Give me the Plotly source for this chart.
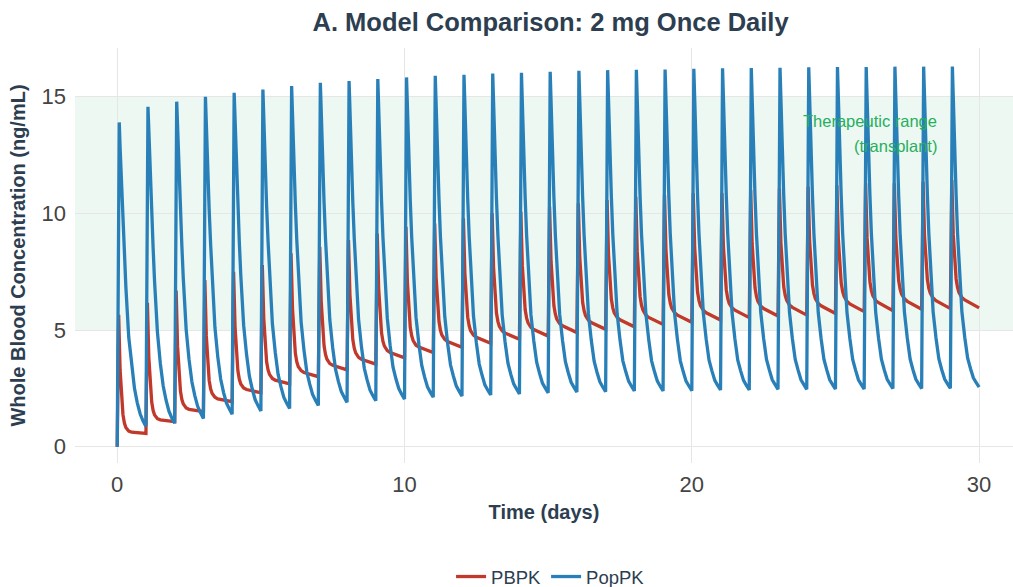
import plotly.graph_objects as go

# ---------------- data (ng/mL) ----------------
n_days = 30
# PopPK: concentration at fixed times after each daily dose (fraction of a day)
popk_offsets = [0.07, 0.1, 0.15, 0.2, 0.25, 0.3, 0.4, 0.5, 0.6, 0.7, 0.8, 0.9, 1.0]
popk_peak = [13.9, 14.57, 14.79, 15.0, 15.17, 15.31, 15.46, 15.6, 15.67, 15.76, 15.83, 15.9, 15.94, 16.0, 16.03,
             16.07, 16.11, 16.14, 16.16, 16.17, 16.2, 16.22, 16.23, 16.24, 16.26, 16.27, 16.27, 16.29, 16.29, 16.3]
popk_010 = [12.82, 13.38, 13.59, 13.75, 13.9, 14.01, 14.14, 14.26, 14.31, 14.39, 14.44, 14.51, 14.55, 14.59, 14.62,
            14.66, 14.68, 14.71, 14.73, 14.74, 14.77, 14.79, 14.8, 14.81, 14.82, 14.84, 14.84, 14.85, 14.85, 14.84]
popk_015 = [11.2, 11.6, 11.8, 11.9, 12.0, 12.09, 12.18, 12.27, 12.31, 12.37, 12.4, 12.45, 12.48, 12.52, 12.54,
            12.57, 12.58, 12.6, 12.61, 12.63, 12.64, 12.66, 12.66, 12.67, 12.67, 12.69, 12.69, 12.7, 12.7, 12.7]
popk_020 = [9.64, 9.93, 10.07, 10.17, 10.25, 10.31, 10.38, 10.45, 10.48, 10.53, 10.55, 10.59, 10.61, 10.64, 10.66,
            10.68, 10.69, 10.7, 10.71, 10.73, 10.74, 10.75, 10.75, 10.76, 10.76, 10.77, 10.77, 10.78, 10.78, 10.78]
popk_025 = [8.3, 8.5, 8.6, 8.7, 8.75, 8.8, 8.85, 8.9, 8.93, 8.96, 8.98, 9.0, 9.02, 9.05, 9.06,
            9.07, 9.08, 9.09, 9.1, 9.11, 9.12, 9.12, 9.12, 9.13, 9.13, 9.14, 9.14, 9.15, 9.15, 9.15]
popk_030 = [6.86, 7.07, 7.19, 7.29, 7.36, 7.42, 7.48, 7.55, 7.59, 7.62, 7.65, 7.68, 7.69, 7.73, 7.75,
            7.76, 7.77, 7.78, 7.79, 7.8, 7.81, 7.82, 7.82, 7.83, 7.83, 7.84, 7.84, 7.85, 7.85, 7.86]
popk_040 = [4.7, 4.9, 5.02, 5.12, 5.21, 5.28, 5.35, 5.43, 5.47, 5.51, 5.55, 5.59, 5.61, 5.64, 5.66,
            5.68, 5.7, 5.71, 5.72, 5.72, 5.74, 5.75, 5.76, 5.76, 5.76, 5.77, 5.77, 5.78, 5.78, 5.8]
popk_050 = [3.43, 3.57, 3.73, 3.85, 3.97, 4.05, 4.14, 4.24, 4.29, 4.33, 4.39, 4.43, 4.46, 4.49, 4.53,
            4.55, 4.57, 4.58, 4.59, 4.59, 4.61, 4.62, 4.64, 4.64, 4.64, 4.65, 4.65, 4.66, 4.66, 4.69]
popk_060 = [2.5, 2.6, 2.77, 2.9, 3.02, 3.1, 3.2, 3.31, 3.36, 3.41, 3.48, 3.51, 3.54, 3.58, 3.62,
            3.64, 3.66, 3.68, 3.68, 3.68, 3.71, 3.71, 3.74, 3.74, 3.74, 3.74, 3.75, 3.75, 3.76, 3.8]
popk_070 = [1.87, 1.99, 2.19, 2.33, 2.47, 2.56, 2.68, 2.79, 2.85, 2.91, 2.98, 3.03, 3.06, 3.1, 3.14,
            3.17, 3.19, 3.22, 3.22, 3.22, 3.25, 3.25, 3.28, 3.28, 3.28, 3.28, 3.29, 3.29, 3.3, 3.35]
popk_080 = [1.4, 1.52, 1.73, 1.88, 2.02, 2.11, 2.24, 2.36, 2.42, 2.49, 2.56, 2.61, 2.64, 2.69, 2.73,
            2.76, 2.78, 2.81, 2.81, 2.81, 2.84, 2.84, 2.87, 2.87, 2.87, 2.87, 2.89, 2.89, 2.9, 2.95]
popk_090 = [1.1, 1.23, 1.45, 1.62, 1.76, 1.86, 1.99, 2.12, 2.18, 2.25, 2.33, 2.38, 2.42, 2.47, 2.51,
            2.54, 2.56, 2.59, 2.59, 2.6, 2.63, 2.63, 2.66, 2.66, 2.66, 2.66, 2.68, 2.68, 2.69, 2.74]
popk_trough = [0.86, 1.0, 1.21, 1.39, 1.53, 1.64, 1.77, 1.9, 1.97, 2.04, 2.12, 2.17, 2.22, 2.26, 2.31,
               2.34, 2.36, 2.39, 2.39, 2.4, 2.43, 2.43, 2.46, 2.46, 2.47, 2.47, 2.49, 2.49, 2.5, 2.55]

# PBPK
pbpk_offsets = [0.05, 0.1, 0.15, 0.2, 0.25, 0.3, 0.4, 0.5, 1.0]
pbpk_peak = [5.65, 6.17, 6.69, 7.14, 7.5, 7.79, 8.29, 8.57, 8.86, 9.14, 9.43, 9.57, 9.79, 10.0, 10.07,
             10.29, 10.43, 10.57, 10.71, 10.79, 10.86, 10.86, 11.0, 11.07, 11.14, 11.21, 11.29, 11.29, 11.36, 11.43]
pbpk_010 = [3.29, 3.82, 4.31, 4.77, 5.16, 5.5, 5.93, 6.22, 6.5, 6.79, 7.06, 7.25, 7.45, 7.65, 7.76,
            7.95, 8.1, 8.23, 8.35, 8.44, 8.53, 8.58, 8.69, 8.75, 8.82, 8.9, 8.96, 8.99, 9.04, 9.1]
pbpk_015 = [2.03, 2.57, 3.05, 3.51, 3.91, 4.29, 4.68, 4.98, 5.26, 5.55, 5.8, 6.02, 6.21, 6.41, 6.53,
            6.71, 6.86, 6.99, 7.11, 7.2, 7.3, 7.37, 7.47, 7.52, 7.59, 7.68, 7.73, 7.78, 7.82, 7.86]
pbpk_020 = [1.37, 1.91, 2.38, 2.84, 3.25, 3.64, 4.0, 4.31, 4.59, 4.88, 5.12, 5.36, 5.55, 5.73, 5.87,
            6.04, 6.19, 6.32, 6.43, 6.52, 6.63, 6.72, 6.81, 6.85, 6.93, 7.01, 7.06, 7.12, 7.16, 7.19]
pbpk_025 = [1.01, 1.55, 2.02, 2.48, 2.89, 3.29, 3.64, 3.95, 4.22, 4.51, 4.75, 4.99, 5.18, 5.37, 5.51,
            5.68, 5.83, 5.95, 6.06, 6.15, 6.26, 6.36, 6.44, 6.49, 6.56, 6.65, 6.69, 6.75, 6.79, 6.82]
pbpk_030 = [0.82, 1.36, 1.83, 2.29, 2.69, 3.1, 3.44, 3.75, 4.02, 4.31, 4.55, 4.79, 4.97, 5.16, 5.31,
            5.47, 5.62, 5.74, 5.85, 5.94, 6.05, 6.15, 6.23, 6.28, 6.35, 6.44, 6.48, 6.54, 6.58, 6.61]
pbpk_040 = [0.67, 1.2, 1.66, 2.12, 2.52, 2.92, 3.26, 3.56, 3.83, 4.12, 4.35, 4.6, 4.78, 4.96, 5.11,
            5.27, 5.42, 5.54, 5.64, 5.74, 5.85, 5.95, 6.03, 6.07, 6.14, 6.23, 6.27, 6.34, 6.37, 6.4]
pbpk_050 = [0.62, 1.15, 1.6, 2.05, 2.45, 2.85, 3.18, 3.49, 3.75, 4.04, 4.27, 4.51, 4.69, 4.87, 5.02,
            5.18, 5.32, 5.44, 5.54, 5.64, 5.74, 5.85, 5.92, 5.97, 6.04, 6.12, 6.17, 6.23, 6.26, 6.29]
pbpk_trough = [0.57, 1.07, 1.5, 1.93, 2.31, 2.69, 3.0, 3.29, 3.54, 3.81, 4.03, 4.26, 4.43, 4.6, 4.74,
               4.89, 5.03, 5.14, 5.24, 5.33, 5.43, 5.53, 5.6, 5.64, 5.71, 5.79, 5.83, 5.89, 5.92, 5.95]

therapeutic_low, therapeutic_high = 5, 15
x_ticks = [0, 10, 20, 30]
y_ticks = [0, 5, 10, 15]


def build(offsets, columns):
    t, c = [0.0], [0.0]
    for d in range(n_days):
        for off, col in zip(offsets, columns):
            t.append(d + off)
            c.append(col[d])
    return t, c


pb_t, pb_c = build(pbpk_offsets, [pbpk_peak, pbpk_010, pbpk_015, pbpk_020, pbpk_025, pbpk_030,
                                  pbpk_040, pbpk_050, pbpk_trough])
pp_t, pp_c = build(popk_offsets, [popk_peak, popk_010, popk_015, popk_020, popk_025, popk_030, popk_040,
                                  popk_050, popk_060, popk_070, popk_080, popk_090, popk_trough])

RED = "#c0392b"
BLUE = "#2980b9"
DARK = "#2c3e50"
GREEN = "#27ae60"
FONT = "Liberation Sans, Arial, sans-serif"

fig = go.Figure()
fig.add_trace(go.Scatter(x=pb_t, y=pb_c, mode="lines", name="PBPK",
                         line=dict(color=RED, width=3.3)))
fig.add_trace(go.Scatter(x=pp_t, y=pp_c, mode="lines", name="PopPK",
                         line=dict(color=BLUE, width=3.3)))

fig.add_shape(type="rect", xref="paper", x0=0, x1=1, yref="y",
              y0=therapeutic_low, y1=therapeutic_high,
              fillcolor="rgba(39,174,96,0.09)", line=dict(width=0), layer="below")

fig.add_annotation(x=28.6, y=13.96, xref="x", yref="y", text="Therapeutic range",
                   showarrow=False, xanchor="right", yanchor="middle",
                   font=dict(family=FONT, size=16.5, color=GREEN))
fig.add_annotation(x=28.6, y=12.89, xref="x", yref="y", text="(transplant)",
                   showarrow=False, xanchor="right", yanchor="middle",
                   font=dict(family=FONT, size=16.5, color=GREEN))

fig.update_layout(
    width=1013, height=587,
    margin=dict(l=75, r=0, t=48, b=124, autoexpand=False),
    paper_bgcolor="white", plot_bgcolor="white",
    font=dict(family=FONT, color="#444444"),
    title=dict(text="<b>A. Model Comparison: 2 mg Once Daily</b>",
               x=0.507, xref="paper", xanchor="center", y=1 - 22 / 587, yref="container", yanchor="middle",
               font=dict(family=FONT, size=25.5, color=DARK)),
    showlegend=True,
    legend=dict(orientation="h", x=0.507, xanchor="center", xref="paper",
                y=1 - 577 / 587, yref="container", yanchor="middle",
                font=dict(family=FONT, size=18.5, color=DARK)),
    xaxis=dict(range=[-1.47, 31.18], tickvals=x_ticks, showgrid=True, gridcolor="#e6e6e6",
               zeroline=False, showline=False, ticks="", ticklabelstandoff=6, automargin=False,
               tickfont=dict(family=FONT, size=22, color="#444444"),
               title=dict(text="<b>Time (days)</b>", font=dict(family=FONT, size=20, color=DARK),
                          standoff=8)),
    yaxis=dict(range=[-0.7, 17.09], tickvals=y_ticks, showgrid=True, gridcolor="#e6e6e6",
               zeroline=False, showline=False, ticks="", ticklabelstandoff=8, automargin=False,
               tickfont=dict(family=FONT, size=22, color="#444444"),
               title=dict(text="<b>Whole Blood Concentration (ng/mL)</b>",
                          font=dict(family=FONT, size=20, color=DARK), standoff=10)),
)

fig.write_html("out.html", config={"displayModeBar": False},
               post_script="document.body.style.margin='0px';")
